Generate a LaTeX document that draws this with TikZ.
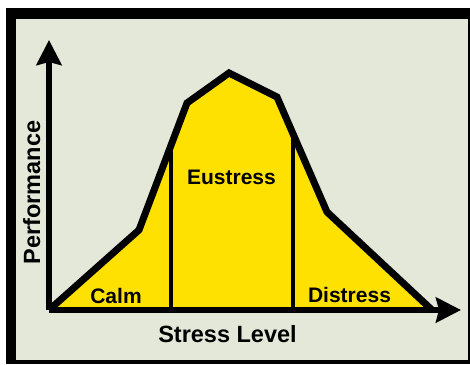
\documentclass[tikz,border=0pt]{standalone}
\usepackage{fontspec}
\setmainfont{Liberation Sans}
\usetikzlibrary{arrows.meta}
\definecolor{bgbeige}{HTML}{E4E8D8}
\definecolor{curveyellow}{HTML}{FFE100}
\tikzset{
  lbl/.style={font=\bfseries\fontsize{21}{21}\selectfont, anchor=base, inner sep=0pt},
  axlbl/.style={font=\bfseries\fontsize{23.5}{23.5}\selectfont, anchor=base, inner sep=0pt},
  axisline/.style={line width=5.5pt, -{Stealth[length=25pt,width=25pt,inset=3pt]}},
  curveline/.style={line width=7pt, line join=miter},
  divline/.style={line width=4pt}
}
\begin{document}
\begin{tikzpicture}[x=1pt,y=-1pt]
\useasboundingbox (0,0) rectangle (470,364);
\fill[white] (0,0) rectangle (470,364);
\fill[black] (6,8) rectangle (470,364);
\fill[bgbeige] (16,19) rectangle (467.5,360);
% curve points
\coordinate (o) at (49,310);
\coordinate (p1) at (139,230);
\coordinate (p2) at (187,103);
\coordinate (p3) at (229,73);
\coordinate (p4) at (277,97);
\coordinate (p5) at (327,212);
\coordinate (p6) at (432,310);
\fill[curveyellow] (o) -- (p1) -- (p2) -- (p3) -- (p4) -- (p5) -- (p6) -- cycle;
% dividers
\coordinate (d1t) at (171,145);
\coordinate (d1b) at (171,310);
\coordinate (d2t) at (293,134);
\coordinate (d2b) at (293,310);
\draw[divline] (d1t) -- (d1b);
\draw[divline] (d2t) -- (d2b);
\draw[curveline] (o) -- (p1) -- (p2) -- (p3) -- (p4) -- (p5) -- (p6);
% axes
\coordinate (ytip) at (49,40);
\coordinate (xtip) at (461,310);
\draw[axisline] (o) -- (ytip);
\draw[axisline] (o) -- (xtip);
% labels
\node[lbl] (calm) at (116,303) {Calm};
\node[lbl] (eu) at (231.5,184) {Eustress};
\node[lbl] (dis) at (349.5,302) {Distress};
\node[axlbl] (xl) at (227.5,342) {Stress Level};
\node[axlbl, rotate=90] (yl) at (40,192.5) {Performance};
\end{tikzpicture}
\end{document}
